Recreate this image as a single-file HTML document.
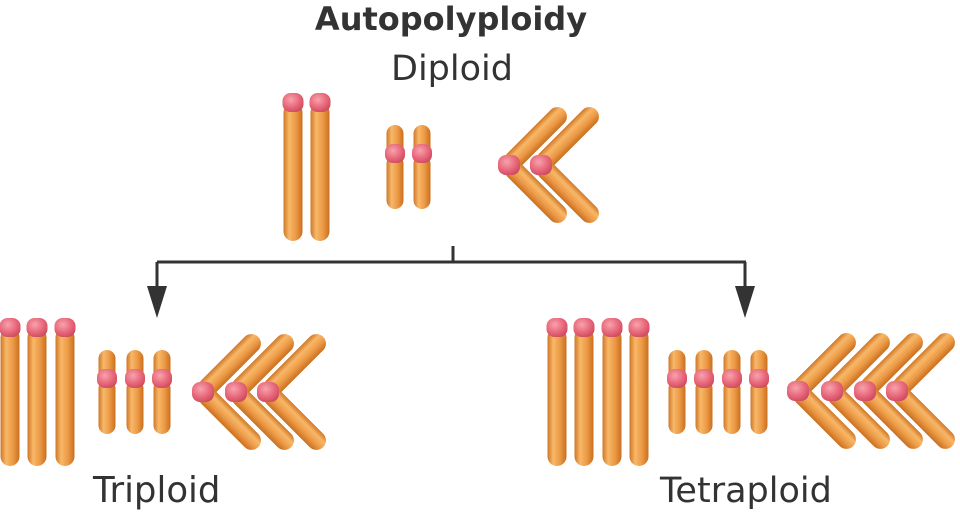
<!DOCTYPE html>
<html><head><meta charset="utf-8"><style>
html,body{margin:0;padding:0;background:#fff;}
svg{display:block}
text{font-family:"DejaVu Sans","Liberation Sans",sans-serif;fill:#333}
</style></head><body>
<svg width="960" height="512" viewBox="0 0 960 512" xmlns="http://www.w3.org/2000/svg">
<defs>
<linearGradient id="og" x1="0" y1="0" x2="1" y2="0">
<stop offset="0" stop-color="#cf7626"/><stop offset="0.3" stop-color="#f7b868"/><stop offset="0.65" stop-color="#ec9a46"/><stop offset="1" stop-color="#c96f1f"/>
</linearGradient>
<linearGradient id="ogv" x1="0" y1="0" x2="0" y2="1">
<stop offset="0" stop-color="#cf7626"/><stop offset="0.3" stop-color="#f7b868"/><stop offset="0.65" stop-color="#ec9a46"/><stop offset="1" stop-color="#c96f1f"/>
</linearGradient>
<radialGradient id="pg" cx="0.4" cy="0.35" r="0.7">
<stop offset="0" stop-color="#f7a3ad"/><stop offset="0.6" stop-color="#e8677a"/><stop offset="1" stop-color="#cc4a5e"/>
</radialGradient>
<g id="L"><rect x="-9.5" y="10" width="19" height="138" rx="9.5" fill="url(#og)"/><rect x="-10.5" y="0" width="21" height="19" rx="8" fill="url(#pg)"/></g>
<g id="S"><rect x="-8.5" y="0" width="17" height="30" rx="8.5" fill="url(#og)"/><rect x="-8.5" y="30" width="17" height="54" rx="8.5" fill="url(#og)"/><rect x="-10" y="19" width="20" height="19" rx="8" fill="url(#pg)"/></g>
<g id="V"><g transform="rotate(-45)"><rect x="-2" y="-9.5" width="80" height="19" rx="9.5" fill="url(#ogv)"/></g><g transform="rotate(45)"><rect x="-2" y="-9.5" width="80" height="19" rx="9.5" fill="url(#ogv)"/></g><rect x="-11" y="-10" width="22" height="20" rx="8" fill="url(#pg)"/></g>
</defs>
<text x="451" y="30" font-size="32" font-weight="bold" text-anchor="middle">Autopolyploidy</text>
<text x="452" y="80" font-size="35" text-anchor="middle">Diploid</text>
<use href="#L" x="293" y="93"/><use href="#L" x="320" y="93"/>
<use href="#S" x="395" y="125"/><use href="#S" x="422" y="125"/>
<use href="#V" x="541" y="165"/><use href="#V" x="509" y="165"/>
<g stroke="#333" stroke-width="3" fill="none">
<line x1="157" y1="262" x2="746" y2="262"/><line x1="453" y1="246" x2="453" y2="262"/>
<line x1="157" y1="262" x2="157" y2="290"/><line x1="745" y1="262" x2="745" y2="290"/>
</g>
<polygon points="147,286 167,286 157,318" fill="#333"/>
<polygon points="735,286 755,286 745,318" fill="#333"/>
<use href="#L" x="10" y="318"/><use href="#L" x="37" y="318"/><use href="#L" x="65" y="318"/>
<use href="#S" x="107" y="350"/><use href="#S" x="135" y="350"/><use href="#S" x="162" y="350"/>
<use href="#V" x="268" y="392"/><use href="#V" x="236" y="392"/><use href="#V" x="203" y="392"/>
<text x="93" y="502" font-size="35.5">Triploid</text>
<use href="#L" x="557" y="318"/><use href="#L" x="584" y="318"/><use href="#L" x="612" y="318"/><use href="#L" x="639" y="318"/>
<use href="#S" x="677" y="350"/><use href="#S" x="704" y="350"/><use href="#S" x="732" y="350"/><use href="#S" x="759" y="350"/>
<use href="#V" x="897" y="391"/><use href="#V" x="865" y="391"/><use href="#V" x="832" y="391"/><use href="#V" x="798" y="391"/>
<text x="660" y="502" font-size="35">Tetraploid</text>
</svg>
</body></html>
